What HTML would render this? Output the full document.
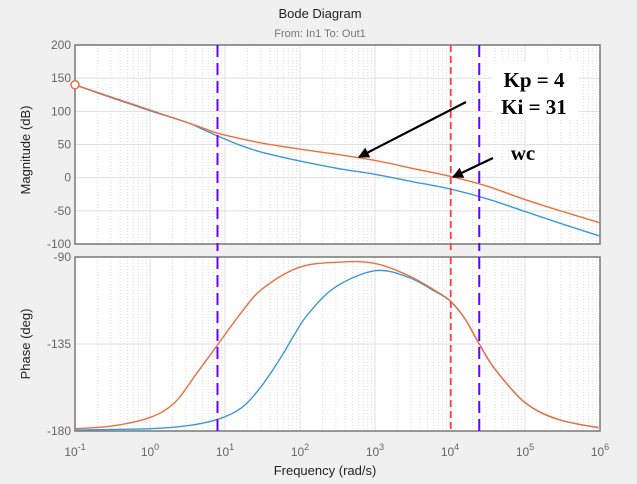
<!DOCTYPE html>
<html><head><meta charset="utf-8"><style>
html,body{margin:0;padding:0;background:#f0f0f0;}
body{position:relative;width:637px;height:484px;overflow:hidden}
svg{display:block;font-family:"Liberation Sans",sans-serif;}
</style></head><body>
<svg id="c" width="637" height="484">
<rect x="0" y="0" width="637" height="484" fill="#f0f0f0"/>
<text x="320" y="18" text-anchor="middle" font-size="13" fill="#222">Bode Diagram</text>
<text x="320" y="37" text-anchor="middle" font-size="11" fill="#777">From: In1  To: Out1</text>
<g id="mag"></g>
<g id="ph"></g>
</svg>
<script>
const logFreq = [-1,-0.5,0,0.5,0.7,0.9,1.2,1.5,2,2.5,3,3.5,4,4.5,5,5.5,6];
const magCompensated = [140,121,102,83,75,67,59,52,43,35,26,14,2,-13,-33,-51,-68];
const magUncompensated = [140,120,101,83,73,63,49,38,25,14,5,-6,-17,-32,-51,-70,-88];
const phLogFreqComp = [-1,-0.5,0,0.33,0.6,0.9,1.22,1.5,2,2.56,3,3.44,3.8,4.01,4.2,4.39,4.6,5,5.44,5.98];
const phaseCompensated = [-178.8,-177.4,-173,-165.3,-151.4,-135.5,-118.6,-106.4,-95.2,-92.6,-93.3,-99.5,-107.3,-113,-122,-135,-148,-165.3,-174,-178.3];
const phLogFreqUnc = [-1,0,0.47,0.9,1.22,1.49,1.76,1.93,2.11,2.47,3,3.44,3.8,4.01,4.2,4.39,4.6,5,5.44,5.98];
const phaseUncompensated = [-179.5,-178.8,-177.4,-174,-168,-156.6,-141,-129.8,-119.4,-105.6,-97.1,-100.4,-107.8,-113,-122,-135,-148,-165.3,-174,-178.3];
const magTicks = [200,150,100,50,0,-50,-100];
const phaseTicks = [-90,-135,-180];
const decadeTicks = [-1,0,1,2,3,4,5,6];
const verticalLinesBlue = [0.9,4.39];
const verticalLineRed = [4.01];

const NS="http://www.w3.org/2000/svg";
const X0=75,X1=600;
const xs=l=>X0+(l+1)/7*(X1-X0);
const M={top:45,bot:244,min:-100,max:200};
const P={top:257,bot:431,min:-180,max:-90};
const ys=(a,v)=>a.bot-(v-a.min)/(a.max-a.min)*(a.bot-a.top);
function el(p,t,at){const e=document.createElementNS(NS,t);for(const k in at)e.setAttribute(k,at[k]);p.appendChild(e);return e;}
function path(pts){let d="M"+pts[0][0]+","+pts[0][1];for(let i=0;i<pts.length-1;i++){const p0=pts[Math.max(0,i-1)],p1=pts[i],p2=pts[i+1],p3=pts[Math.min(pts.length-1,i+2)];d+=" C"+(p1[0]+(p2[0]-p0[0])/6)+","+(p1[1]+(p2[1]-p0[1])/6)+" "+(p2[0]-(p3[0]-p1[0])/6)+","+(p2[1]-(p3[1]-p1[1])/6)+" "+p2[0]+","+p2[1];}return d;}
function axes(g,a,ticks,name){
  el(g,'rect',{x:X0,y:a.top,width:X1-X0,height:a.bot-a.top,fill:'#fff'});
  for(let d=-1;d<6;d++)for(let k=2;k<10;k++){const x=xs(d+Math.log10(k));const ln=el(g,'line',{x1:x,x2:x,y1:a.top,y2:a.bot,stroke:'#dcdcdc','stroke-dasharray':'1,2','stroke-width':1});
  }
  decadeTicks.forEach(d=>{const x=xs(d);const ln=el(g,'line',{x1:x,x2:x,y1:a.top,y2:a.bot,stroke:'#e0e0e0'});
  });
  ticks.forEach(v=>{const y=ys(a,v);const ln=el(g,'line',{x1:X0,x2:X1,y1:y,y2:y,stroke:'#e0e0e0'});
  
  const t=el(g,'text',{x:X0-4,y:y+4,'text-anchor':'end','font-size':12,fill:'#666'});t.textContent=v;
  });
  el(g,'rect',{x:X0,y:a.top,width:X1-X0,height:a.bot-a.top,fill:'none',stroke:'#777','stroke-width':1.5});
}
function series(g,lx,vals,a,col,name){const pts=lx.map((l,i)=>[xs(l),ys(a,vals[i])]);const p=el(g,'path',{d:path(pts),fill:'none',stroke:col,'stroke-width':1.4});
}
function vlines(g,a){verticalLinesBlue.forEach(l=>{const x=xs(l);const ln=el(g,'line',{x1:x,x2:x,y1:a.top,y2:a.bot+(a===M?7:0),stroke:'#6a00ff','stroke-width':2,'stroke-dasharray':'12,6'});
});
verticalLineRed.forEach(l=>{const x=xs(l);const ln=el(g,'line',{x1:x,x2:x,y1:a.top,y2:a.bot+(a===M?7:0),stroke:'#ff4040','stroke-width':1.8,'stroke-dasharray':'7,4'});
});}
const mg=document.getElementById('mag'),pg=document.getElementById('ph');
axes(mg,M,magTicks,'magnitude');axes(pg,P,phaseTicks,'phase');
series(mg,logFreq,magUncompensated,M,'#3a9ad9','magnitude-uncompensated');
series(mg,logFreq,magCompensated,M,'#ee6e3c','magnitude-compensated');
series(pg,phLogFreqUnc,phaseUncompensated,P,'#3a9ad9','phase-uncompensated');
series(pg,phLogFreqComp,phaseCompensated,P,'#ee6e3c','phase-compensated');
vlines(mg,M);vlines(pg,P);
const mk=el(mg,'circle',{cx:xs(logFreq[0]),cy:ys(M,magCompensated[0]),r:4,fill:'#fff',stroke:'#ee6e3c','stroke-width':1.5});

decadeTicks.forEach(d=>{const t=el(pg,'text',{x:xs(d),y:456,'text-anchor':'middle','font-size':12,fill:'#666'});
t.innerHTML='10<tspan dy="-6" font-size="9">'+d+'</tspan>';
});
</script>
<svg width="637" height="484" style="position:absolute;left:0;top:0">
<defs><marker id="ah" viewBox="0 0 10 10" refX="9" refY="5" markerWidth="5" markerHeight="5" orient="auto"><path d="M0,0 L10,5 L0,10 z" fill="#000"/></marker></defs>
<text x="30" y="150" transform="rotate(-90 30 150)" text-anchor="middle" font-size="13" fill="#222" font-family="Liberation Sans,sans-serif">Magnitude (dB)</text>
<text x="30" y="344" transform="rotate(-90 30 344)" text-anchor="middle" font-size="13" fill="#222" font-family="Liberation Sans,sans-serif">Phase (deg)</text>
<text x="325" y="475" text-anchor="middle" font-size="13" fill="#222" font-family="Liberation Sans,sans-serif">Frequency  (rad/s)</text>
<rect x="492" y="62" width="86" height="58" fill="#fff"/>
<text x="534" y="87" text-anchor="middle" font-size="21" font-weight="bold" font-family="Liberation Serif,serif">Kp = 4</text>
<text x="534" y="114" text-anchor="middle" font-size="21" font-weight="bold" font-family="Liberation Serif,serif">Ki = 31</text>
<text x="523" y="160" text-anchor="middle" font-size="21" font-weight="bold" font-family="Liberation Serif,serif">wc</text>
<line x1="466" y1="102" x2="359" y2="157" stroke="#000" stroke-width="2.2" marker-end="url(#ah)"/>
<line x1="493" y1="158" x2="453" y2="177" stroke="#000" stroke-width="2.2" marker-end="url(#ah)"/>
</svg>
</body></html>
